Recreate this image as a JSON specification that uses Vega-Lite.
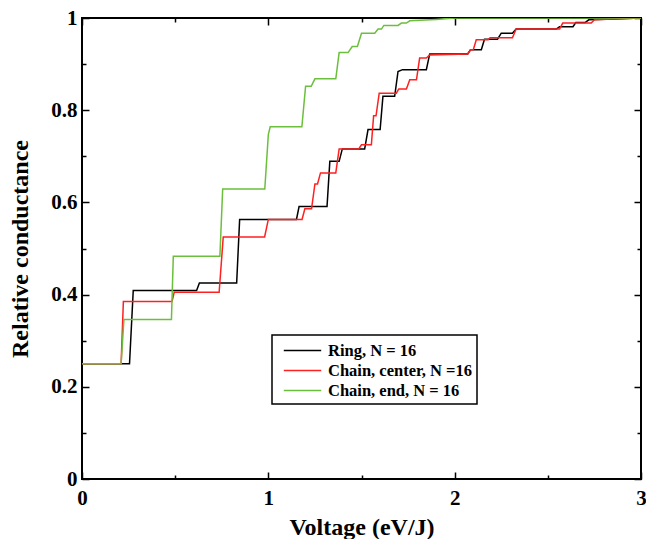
{
  "$schema": "https://vega.github.io/schema/vega-lite/v6.json",
  "width": 559,
  "height": 461,
  "autosize": {"type": "none"},
  "padding": {"left": 82, "top": 18, "right": 5, "bottom": 60},
  "background": "white",
  "config": {
    "view": {"stroke": "black", "strokeWidth": 2},
    "font": "Liberation Serif",
    "legend": {"strokeWidth": 1.5},
    "axis": {"grid": false, "domain": false, "tickColor": "black", "tickWidth": 1.5, "labelColor": "black", "titleColor": "black", "labelFont": "Liberation Serif", "titleFont": "Liberation Serif", "labelFontWeight": "bold", "titleFontWeight": "bold", "labelFontSize": 21, "titleFontSize": 24}
  },
  "data": {"values": [
    {"s": "Ring, N = 16", "x": 0, "y": 0.25},
    {"s": "Ring, N = 16", "x": 0.255, "y": 0.25},
    {"s": "Ring, N = 16", "x": 0.275, "y": 0.409},
    {"s": "Ring, N = 16", "x": 0.615, "y": 0.409},
    {"s": "Ring, N = 16", "x": 0.63, "y": 0.425},
    {"s": "Ring, N = 16", "x": 0.83, "y": 0.425},
    {"s": "Ring, N = 16", "x": 0.846, "y": 0.563},
    {"s": "Ring, N = 16", "x": 1.151, "y": 0.563},
    {"s": "Ring, N = 16", "x": 1.165, "y": 0.591},
    {"s": "Ring, N = 16", "x": 1.315, "y": 0.591},
    {"s": "Ring, N = 16", "x": 1.33, "y": 0.689},
    {"s": "Ring, N = 16", "x": 1.38, "y": 0.689},
    {"s": "Ring, N = 16", "x": 1.397, "y": 0.716},
    {"s": "Ring, N = 16", "x": 1.517, "y": 0.716},
    {"s": "Ring, N = 16", "x": 1.535, "y": 0.758},
    {"s": "Ring, N = 16", "x": 1.6, "y": 0.758},
    {"s": "Ring, N = 16", "x": 1.615, "y": 0.83},
    {"s": "Ring, N = 16", "x": 1.678, "y": 0.83},
    {"s": "Ring, N = 16", "x": 1.696, "y": 0.884},
    {"s": "Ring, N = 16", "x": 1.72, "y": 0.888},
    {"s": "Ring, N = 16", "x": 1.848, "y": 0.888},
    {"s": "Ring, N = 16", "x": 1.866, "y": 0.922},
    {"s": "Ring, N = 16", "x": 2.07, "y": 0.922},
    {"s": "Ring, N = 16", "x": 2.085, "y": 0.931},
    {"s": "Ring, N = 16", "x": 2.143, "y": 0.931},
    {"s": "Ring, N = 16", "x": 2.16, "y": 0.954},
    {"s": "Ring, N = 16", "x": 2.23, "y": 0.954},
    {"s": "Ring, N = 16", "x": 2.25, "y": 0.967},
    {"s": "Ring, N = 16", "x": 2.31, "y": 0.967},
    {"s": "Ring, N = 16", "x": 2.33, "y": 0.976},
    {"s": "Ring, N = 16", "x": 2.545, "y": 0.976},
    {"s": "Ring, N = 16", "x": 2.563, "y": 0.981},
    {"s": "Ring, N = 16", "x": 2.635, "y": 0.981},
    {"s": "Ring, N = 16", "x": 2.65, "y": 0.99},
    {"s": "Ring, N = 16", "x": 2.7, "y": 0.99},
    {"s": "Ring, N = 16", "x": 2.72, "y": 0.996},
    {"s": "Ring, N = 16", "x": 2.85, "y": 0.998},
    {"s": "Ring, N = 16", "x": 3, "y": 1.0},
    {"s": "Chain, center, N =16", "x": 0, "y": 0.25},
    {"s": "Chain, center, N =16", "x": 0.21, "y": 0.25},
    {"s": "Chain, center, N =16", "x": 0.222, "y": 0.385},
    {"s": "Chain, center, N =16", "x": 0.483, "y": 0.385},
    {"s": "Chain, center, N =16", "x": 0.495, "y": 0.405},
    {"s": "Chain, center, N =16", "x": 0.736, "y": 0.405},
    {"s": "Chain, center, N =16", "x": 0.758, "y": 0.525},
    {"s": "Chain, center, N =16", "x": 0.98, "y": 0.525},
    {"s": "Chain, center, N =16", "x": 1.0, "y": 0.563},
    {"s": "Chain, center, N =16", "x": 1.181, "y": 0.563},
    {"s": "Chain, center, N =16", "x": 1.196, "y": 0.586},
    {"s": "Chain, center, N =16", "x": 1.232, "y": 0.586},
    {"s": "Chain, center, N =16", "x": 1.25, "y": 0.64},
    {"s": "Chain, center, N =16", "x": 1.264, "y": 0.64},
    {"s": "Chain, center, N =16", "x": 1.28, "y": 0.664},
    {"s": "Chain, center, N =16", "x": 1.362, "y": 0.664},
    {"s": "Chain, center, N =16", "x": 1.38, "y": 0.716},
    {"s": "Chain, center, N =16", "x": 1.485, "y": 0.716},
    {"s": "Chain, center, N =16", "x": 1.5, "y": 0.725},
    {"s": "Chain, center, N =16", "x": 1.553, "y": 0.725},
    {"s": "Chain, center, N =16", "x": 1.565, "y": 0.788},
    {"s": "Chain, center, N =16", "x": 1.578, "y": 0.788},
    {"s": "Chain, center, N =16", "x": 1.595, "y": 0.837},
    {"s": "Chain, center, N =16", "x": 1.687, "y": 0.837},
    {"s": "Chain, center, N =16", "x": 1.7, "y": 0.846},
    {"s": "Chain, center, N =16", "x": 1.741, "y": 0.846},
    {"s": "Chain, center, N =16", "x": 1.759, "y": 0.866},
    {"s": "Chain, center, N =16", "x": 1.795, "y": 0.866},
    {"s": "Chain, center, N =16", "x": 1.812, "y": 0.913},
    {"s": "Chain, center, N =16", "x": 1.848, "y": 0.913},
    {"s": "Chain, center, N =16", "x": 1.866, "y": 0.92},
    {"s": "Chain, center, N =16", "x": 2.07, "y": 0.922},
    {"s": "Chain, center, N =16", "x": 2.085, "y": 0.931},
    {"s": "Chain, center, N =16", "x": 2.1, "y": 0.931},
    {"s": "Chain, center, N =16", "x": 2.116, "y": 0.953},
    {"s": "Chain, center, N =16", "x": 2.18, "y": 0.953},
    {"s": "Chain, center, N =16", "x": 2.19, "y": 0.957},
    {"s": "Chain, center, N =16", "x": 2.31, "y": 0.957},
    {"s": "Chain, center, N =16", "x": 2.33, "y": 0.976},
    {"s": "Chain, center, N =16", "x": 2.563, "y": 0.976},
    {"s": "Chain, center, N =16", "x": 2.58, "y": 0.989},
    {"s": "Chain, center, N =16", "x": 2.733, "y": 0.989},
    {"s": "Chain, center, N =16", "x": 2.75, "y": 0.996},
    {"s": "Chain, center, N =16", "x": 3, "y": 1.0},
    {"s": "Chain, end, N = 16", "x": 0, "y": 0.25},
    {"s": "Chain, end, N = 16", "x": 0.21, "y": 0.25},
    {"s": "Chain, end, N = 16", "x": 0.225, "y": 0.346},
    {"s": "Chain, end, N = 16", "x": 0.48, "y": 0.346},
    {"s": "Chain, end, N = 16", "x": 0.49, "y": 0.483},
    {"s": "Chain, end, N = 16", "x": 0.74, "y": 0.483},
    {"s": "Chain, end, N = 16", "x": 0.755, "y": 0.629},
    {"s": "Chain, end, N = 16", "x": 0.981, "y": 0.629},
    {"s": "Chain, end, N = 16", "x": 1.0, "y": 0.747},
    {"s": "Chain, end, N = 16", "x": 1.01, "y": 0.764},
    {"s": "Chain, end, N = 16", "x": 1.18, "y": 0.764},
    {"s": "Chain, end, N = 16", "x": 1.2, "y": 0.852},
    {"s": "Chain, end, N = 16", "x": 1.23, "y": 0.852},
    {"s": "Chain, end, N = 16", "x": 1.25, "y": 0.868},
    {"s": "Chain, end, N = 16", "x": 1.362, "y": 0.868},
    {"s": "Chain, end, N = 16", "x": 1.38, "y": 0.925},
    {"s": "Chain, end, N = 16", "x": 1.428, "y": 0.925},
    {"s": "Chain, end, N = 16", "x": 1.45, "y": 0.938},
    {"s": "Chain, end, N = 16", "x": 1.478, "y": 0.938},
    {"s": "Chain, end, N = 16", "x": 1.5, "y": 0.967},
    {"s": "Chain, end, N = 16", "x": 1.571, "y": 0.967},
    {"s": "Chain, end, N = 16", "x": 1.589, "y": 0.976},
    {"s": "Chain, end, N = 16", "x": 1.607, "y": 0.976},
    {"s": "Chain, end, N = 16", "x": 1.62, "y": 0.984},
    {"s": "Chain, end, N = 16", "x": 1.696, "y": 0.984},
    {"s": "Chain, end, N = 16", "x": 1.714, "y": 0.989},
    {"s": "Chain, end, N = 16", "x": 1.741, "y": 0.989},
    {"s": "Chain, end, N = 16", "x": 1.759, "y": 0.994},
    {"s": "Chain, end, N = 16", "x": 1.9, "y": 0.997},
    {"s": "Chain, end, N = 16", "x": 2.0, "y": 1.0},
    {"s": "Chain, end, N = 16", "x": 3, "y": 1.0}
  ]},
  "layer": [
    {
      "mark": {"type": "line", "strokeWidth": 1.5, "clip": true},
      "encoding": {
        "x": {"field": "x", "type": "quantitative",
          "scale": {"domain": [0, 3], "nice": false, "zero": false},
          "axis": {"orient": "bottom", "title": "Voltage (eV/J)", "values": [0, 0.5, 1, 1.5, 2, 2.5, 3], "format": "~g",
            "labelExpr": "datum.value % 1 === 0 ? datum.label : ''",
            "tickSize": {"condition": {"test": "datum.value % 1 === 0", "value": -7}, "value": -4},
            "labelPadding": 15, "titlePadding": 7, "labelFlush": false}},
        "y": {"field": "y", "type": "quantitative",
          "scale": {"domain": [0, 1], "nice": false, "zero": false},
          "axis": {"orient": "left", "title": "Relative conductance", "values": [0, 0.1, 0.2, 0.3, 0.4, 0.5, 0.6, 0.7, 0.8, 0.9, 1], "format": "~g",
            "labelExpr": "round(datum.value * 10) % 2 === 0 ? datum.label : ''",
            "tickSize": {"condition": {"test": "round(datum.value * 10) % 2 === 0", "value": -7}, "value": -4},
            "labelPadding": 12, "titlePadding": 18, "labelFlush": false}},
        "color": {"field": "s", "type": "nominal",
          "scale": {"domain": ["Ring, N = 16", "Chain, center, N =16", "Chain, end, N = 16"], "range": ["#000000", "#ff2020", "#6cbf3c"]},
          "legend": {"orient": "none", "legendX": 190, "legendY": 317, "title": null,
            "strokeColor": "black", "fillColor": "white", "padding": 5,
            "symbolType": "M-2,0H2", "symbolSize": 350, "symbolStrokeWidth": 1.5, "symbolOffset": 15,
            "labelFont": "Liberation Serif", "labelFontWeight": "bold", "labelFontSize": 16.5, "labelColor": "black",
            "labelOffset": 15, "rowPadding": 1}}
      }
    },
    {
      "mark": {"type": "line", "opacity": 0},
      "encoding": {
        "x": {"field": "x", "type": "quantitative",
          "scale": {"domain": [0, 3], "nice": false, "zero": false},
          "axis": {"orient": "top", "title": null, "labels": false, "values": [0, 0.5, 1, 1.5, 2, 2.5, 3],
            "tickSize": {"condition": {"test": "datum.value % 1 === 0", "value": -7}, "value": -4}}},
        "y": {"field": "y", "type": "quantitative",
          "scale": {"domain": [0, 1], "nice": false, "zero": false},
          "axis": {"orient": "right", "title": null, "labels": false, "values": [0, 0.1, 0.2, 0.3, 0.4, 0.5, 0.6, 0.7, 0.8, 0.9, 1],
            "tickSize": {"condition": {"test": "round(datum.value * 10) % 2 === 0", "value": -7}, "value": -4}}},
        "detail": {"field": "s", "type": "nominal"}
      }
    }
  ],
  "resolve": {"scale": {"x": "independent", "y": "independent"}, "axis": {"x": "independent", "y": "independent"}}
}
